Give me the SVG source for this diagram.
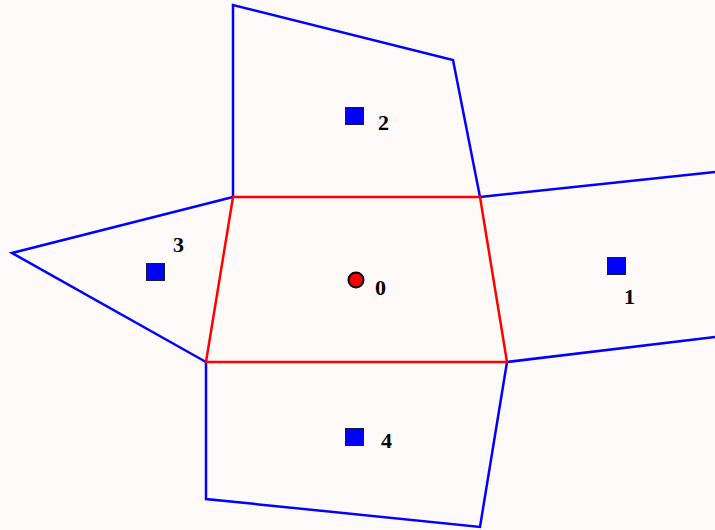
<svg xmlns="http://www.w3.org/2000/svg" width="715" height="530" viewBox="0 0 715 530">
<style>
.blue{fill:none;stroke:#0000ff;stroke-width:2.5;stroke-linejoin:miter}
.red{fill:none;stroke:#ff0000;stroke-width:2.5}
.site{fill:#0000ff;stroke:#1a1a40;stroke-width:1}
.lbl{font-family:"Liberation Serif","Times New Roman",serif;font-weight:bold;font-size:22px;fill:#000}
</style>
<rect width="715" height="530" fill="#fffafa"/>
<g id="edges">
<polyline class="blue" points="233,197 233,5 453,60 480,197"/>
<polyline class="blue" points="480,197 715,172"/>
<polyline class="blue" points="507,362 715,337"/>
<polyline class="blue" points="233,197 12,253 206,362"/>
<polyline class="blue" points="206,362 206,499 480,527 507,362"/>
<polygon class="red" points="233,197 480,197 507,362 206,362"/>
</g>
<g id="node0"><circle cx="356" cy="280" r="7.5" fill="#ff0000" stroke="#000" stroke-width="2"/><text class="lbl" x="375" y="295">0</text></g>
<g id="node1"><rect class="site" x="607.5" y="257.5" width="18" height="17"/><text class="lbl" x="624" y="304">1</text></g>
<g id="node2"><rect class="site" x="345.5" y="107.5" width="18" height="17"/><text class="lbl" x="378" y="130">2</text></g>
<g id="node3"><rect class="site" x="146.5" y="263.5" width="18" height="17"/><text class="lbl" x="173" y="252">3</text></g>
<g id="node4"><rect class="site" x="345.5" y="428.5" width="18" height="17"/><text class="lbl" x="381" y="448">4</text></g>
</svg>
